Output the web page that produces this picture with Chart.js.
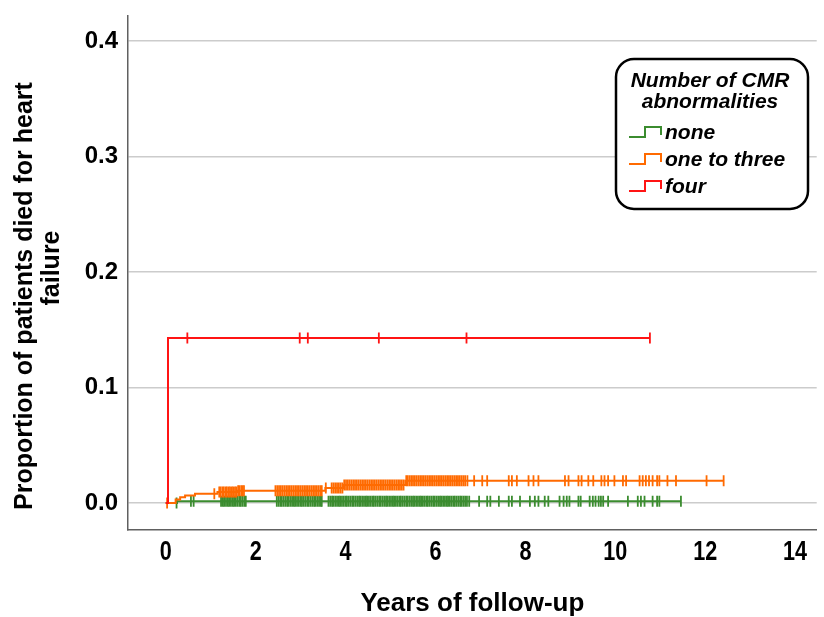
<!DOCTYPE html>
<html><head><meta charset="utf-8">
<script src="https://cdn.jsdelivr.net/npm/chart.js@4"></script>
<style>html,body{margin:0;padding:0;background:#fff;}#wrap{width:824px;height:617px;}</style>
</head><body><div id="wrap"><canvas id="c" width="824" height="617"></canvas></div>
<script>
// ---- data ----
const xTickValues = [0, 2, 4, 6, 8, 10, 12, 14];
const yTickValues = [0, 0.1, 0.2, 0.3, 0.4];
const groupLabels = ['none', 'one to three', 'four'];
const legendTitle = ['Number of CMR', 'abnormalities'];
const xTitle = 'Years of follow-up';
const yTitle = ['Proportion of patients died for heart', 'failure'];

// event (step) times and cumulative proportions
const noneEventTimes = [0, 0.25];
const noneEventValues = [0, 0.0015];
const oneToThreeEventTimes = [0, 0.22, 0.32, 0.43, 0.65, 1.15, 1.60, 3.55, 3.95, 5.33];
const oneToThreeEventValues = [0, 0.003, 0.005, 0.0065, 0.008, 0.0095, 0.0106, 0.013, 0.0156, 0.0192];
const fourEventTimes = [0, 0.05];
const fourEventValues = [0, 0.1429];

// censored observations (times)
const noneCensorTimes = [0.24, 0.56, 0.62,
  1.23, 1.27, 1.30, 1.34, 1.38, 1.41, 1.45, 1.49, 1.52, 1.56, 1.60, 1.64, 1.67, 1.71, 1.75, 1.78,
  2.47, 2.51, 2.55, 2.58, 2.62, 2.66, 2.70, 2.73, 2.77, 2.81, 2.85, 2.88, 2.92, 2.96, 3.00, 3.03, 3.07, 3.11, 3.15, 3.18, 3.22, 3.26, 3.30, 3.33, 3.37, 3.41, 3.45, 3.47,
  3.62, 3.66, 3.70, 3.73, 3.77, 3.81, 3.85, 3.88, 3.92, 3.96, 4.00, 4.03, 4.07, 4.11, 4.15, 4.18, 4.22, 4.26, 4.30, 4.33, 4.37, 4.41, 4.45, 4.48, 4.52, 4.56, 4.60, 4.63, 4.67, 4.71, 4.75, 4.78, 4.82, 4.86, 4.90, 4.93, 4.97, 5.01, 5.05, 5.08, 5.12, 5.16, 5.20, 5.23, 5.27, 5.31, 5.35, 5.38, 5.42, 5.46, 5.50, 5.53, 5.57, 5.61, 5.65, 5.68, 5.72, 5.76, 5.80, 5.83, 5.87, 5.91, 5.95, 5.98, 6.02, 6.06, 6.10, 6.13, 6.17, 6.21, 6.25, 6.28, 6.32, 6.36, 6.40, 6.43, 6.47, 6.51, 6.55, 6.58, 6.62, 6.66, 6.70, 6.75,
  6.97, 7.15, 7.22, 7.41, 7.63, 7.70, 7.88, 8.10, 8.21, 8.29, 8.43, 8.51, 8.76, 8.85, 8.92, 8.98, 9.18, 9.23, 9.43, 9.50, 9.56, 9.63, 9.68, 9.73, 9.84, 10.28, 10.50, 10.57, 10.65, 10.83, 10.93, 10.98, 11.46];
const oneToThreeCensorTimes = [0.03, 1.08,
  1.19, 1.22, 1.26, 1.29, 1.33, 1.36, 1.40, 1.43, 1.47, 1.50, 1.54, 1.57, 1.61, 1.64, 1.68, 1.71, 1.74,
  2.44, 2.48, 2.52, 2.56, 2.60, 2.64, 2.68, 2.72, 2.76, 2.80, 2.84, 2.88, 2.92, 2.96, 3.00, 3.04, 3.08, 3.12, 3.16, 3.20, 3.24, 3.28, 3.32, 3.36, 3.40, 3.44, 3.47,
  3.56, 3.69, 3.73, 3.77, 3.81, 3.85, 3.89, 3.93, 3.97, 4.01, 4.05, 4.09, 4.13, 4.17, 4.21, 4.25, 4.29, 4.33, 4.37, 4.41, 4.45, 4.49, 4.53, 4.57, 4.61, 4.65, 4.69, 4.73, 4.77, 4.81, 4.85, 4.89, 4.93, 4.97, 5.01, 5.05, 5.09, 5.13, 5.17, 5.21, 5.25, 5.29, 5.35, 5.38, 5.42, 5.46, 5.50, 5.54, 5.58, 5.62, 5.66, 5.70, 5.74, 5.78, 5.82, 5.86, 5.90, 5.94, 5.98, 6.02, 6.06, 6.10, 6.14, 6.18, 6.22, 6.26, 6.30, 6.34, 6.38, 6.42, 6.46, 6.50, 6.54, 6.58, 6.62, 6.66, 6.71,
  6.86, 7.04, 7.15, 7.63, 7.70, 7.81, 8.07, 8.18, 8.29, 8.88, 8.96, 9.18, 9.25, 9.40, 9.51, 9.69, 9.76, 9.84, 9.98, 10.17, 10.24, 10.54, 10.61, 10.68, 10.75, 10.83, 10.93, 10.98, 11.16, 11.35, 12.03, 12.41];
const fourCensorTimes = [0.48, 2.98, 3.16, 4.74, 6.69, 10.77];

const groupColors = ['#3b8c2f', '#ff6a00', '#ff1414'];

// ---- build ----
function valueAt(times, values, t) {
  let v = values[0];
  for (let i = 0; i < times.length; i++) { if (times[i] <= t) v = values[i]; }
  return v;
}
const groups = [
  [noneEventTimes, noneEventValues, noneCensorTimes],
  [oneToThreeEventTimes, oneToThreeEventValues, oneToThreeCensorTimes],
  [fourEventTimes, fourEventValues, fourCensorTimes]
];
const datasets = [];
groups.forEach((g, i) => {
  const [et, ev, ct] = g;
  const last = Math.max(...ct, ...et);
  const pts = et.map((t, k) => ({x: t, y: ev[k]}));
  pts.push({x: last, y: valueAt(et, ev, last)});
  datasets.push({
    label: groupLabels[i], data: pts, stepped: 'before', showLine: true,
    borderColor: groupColors[i], borderWidth: 2, pointRadius: 0, fill: false, order: 10 - i
  });
  datasets.push({
    label: groupLabels[i] + ' censored', data: ct.map(t => ({x: t, y: valueAt(et, ev, t)})),
    showLine: false, pointStyle: 'line', rotation: 90, pointRadius: 5.5,
    borderColor: groupColors[i], backgroundColor: groupColors[i], pointBorderWidth: 1.8, order: 10 - i
  });
});

const FONT = 'Arial, "Liberation Sans", sans-serif';

const extrasPlugin = {
  id: 'kmExtras',
  afterDraw(chart) {
    const ctx = chart.ctx;
    const xs = chart.scales.x;
    ctx.save();
    ctx.fillStyle = '#000'; ctx.textAlign = 'center'; ctx.textBaseline = 'middle';
    // x tick labels (condensed, as in the original)
    ctx.font = 'bold 27px ' + FONT;
    xTickValues.forEach(v => {
      const px = xs.getPixelForValue(v);
      ctx.save();
      ctx.translate(px, 553);
      ctx.scale(0.8, 1);
      ctx.fillText(String(v), 0, 0);
      ctx.restore();
    });
    // y-axis title (two lines)
    ctx.font = 'bold 25px ' + FONT;
    const yCenters = [[25, 296], [52, 268]];
    yTitle.forEach((line, i) => {
      ctx.save();
      ctx.translate(yCenters[i][0], yCenters[i][1]);
      ctx.rotate(-Math.PI / 2);
      ctx.fillText(line, 0, 0);
      ctx.restore();
    });
    // legend box
    const x0 = 616, y0 = 59, w = 192, h = 150, r = 18;
    ctx.lineWidth = 2.5; ctx.strokeStyle = '#000'; ctx.fillStyle = '#fff';
    ctx.beginPath();
    ctx.roundRect(x0, y0, w, h, r);
    ctx.fill(); ctx.stroke();
    ctx.fillStyle = '#000'; ctx.textAlign = 'center'; ctx.textBaseline = 'middle';
    ctx.font = 'italic bold 21px ' + FONT;
    ctx.fillText(legendTitle[0], 710, 81);
    ctx.fillText(legendTitle[1], 710, 102);
    const ys = [132, 159, 186];
    ctx.textAlign = 'left';
    groupLabels.forEach((lab, i) => {
      const y = ys[i];
      ctx.strokeStyle = groupColors[i]; ctx.lineWidth = 2;
      ctx.beginPath();
      ctx.moveTo(629, y + 5); ctx.lineTo(645, y + 5); ctx.lineTo(645, y - 5); ctx.lineTo(661, y - 5); ctx.lineTo(661, y + 3);
      ctx.stroke();
      ctx.fillStyle = '#000';
      ctx.fillText(lab, 665, y + 1);
    });
    ctx.restore();
  }
};

new Chart(document.getElementById('c'), {
  type: 'scatter',
  data: {datasets},
  options: {
    responsive: false, animation: false, devicePixelRatio: 1,
    layout: {padding: {top: 16, right: 2, left: 0, bottom: 0}},
    plugins: {legend: {display: false}, tooltip: {enabled: false}},
    scales: {
      x: {
        type: 'linear', min: -0.84, max: 14.48,
        afterBuildTicks: s => { s.ticks = xTickValues.map(v => ({value: v})); },
        afterFit: s => { s.height = 87; s.paddingLeft = 0; s.paddingRight = 0; },
        grid: {display: false, drawTicks: false},
        border: {display: true, color: '#606060', width: 1.5},
        ticks: {display: false},
        title: {display: true, text: xTitle, color: '#000', font: {family: FONT, size: 26, weight: 'bold', lineHeight: 1.0}, padding: {top: 12, bottom: 0}}
      },
      y: {
        type: 'linear', min: -0.0234, max: 0.4216,
        afterBuildTicks: s => { s.ticks = yTickValues.map(v => ({value: v})); },
        afterFit: s => { s.width = 128; s.paddingTop = 0; s.paddingBottom = 0; },
        grid: {display: true, drawTicks: false, color: '#cccccc', lineWidth: 1.5},
        border: {display: true, color: '#606060', width: 1.5},
        ticks: {color: '#000', font: {family: FONT, size: 24, weight: 'bold'}, padding: 10, callback: v => v.toFixed(1)},
        title: {display: false}
      }
    }
  },
  plugins: [extrasPlugin]
});
</script>
</body></html>
